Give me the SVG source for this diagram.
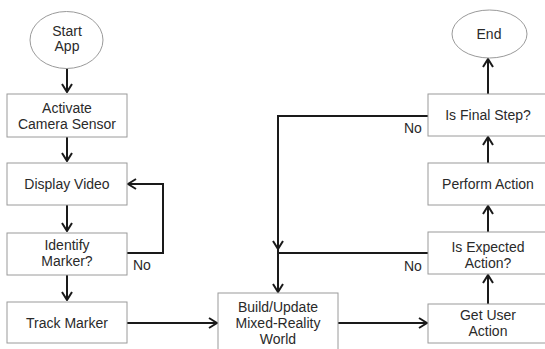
<svg xmlns="http://www.w3.org/2000/svg" width="545" height="349" viewBox="0 0 545 349">
<defs>
<marker id="ah" viewBox="0 0 10 12" refX="9" refY="6" markerWidth="10" markerHeight="12" markerUnits="userSpaceOnUse" orient="auto">
<path d="M1,1 L9,6 L1,11" fill="none" stroke="#1a1a1a" stroke-width="2"/>
</marker>
<style>
.box{fill:#fff;stroke:#9a9a9a;stroke-width:1}
.t{font-family:"Liberation Sans",Arial,sans-serif;font-size:14px;fill:#2a2a2a;text-anchor:middle}
.l{font-family:"Liberation Sans",Arial,sans-serif;font-size:14px;fill:#2a2a2a}
.c{fill:none;stroke:#1a1a1a;stroke-width:2;marker-end:url(#ah)}
.p{fill:none;stroke:#1a1a1a;stroke-width:2}
</style>
</defs>
<rect width="545" height="349" fill="#fff"/>
<g id="connectors">
<path class="c" d="M67,68 L67,92"/>
<path class="c" d="M67,137 L67,161"/>
<path class="c" d="M67,205 L67,231"/>
<path class="c" d="M67,275 L67,300"/>
<path class="c" d="M127,253 L163,253 L163,184 L128,184"/>
<path class="c" d="M127,323 L217,323"/>
<path class="c" d="M338,323 L427,323"/>
<path class="c" d="M488,304 L488,275"/>
<path class="c" d="M488,232 L488,206"/>
<path class="c" d="M488,163 L488,137"/>
<path class="c" d="M488,94 L488,59"/>
<path class="c" d="M428,116 L278,116 L278,249"/>
<path class="p" d="M428,253 L278,253"/>
<path class="c" d="M278,249 L278,292"/>
</g>
<g id="start"><ellipse class="box" cx="66.5" cy="40" rx="36.5" ry="28.5"/><text class="t" x="67" y="36">Start</text><text class="t" x="67" y="51">App</text></g>
<g id="activate"><rect class="box" x="7" y="94" width="120" height="43"/><text class="t" x="67" y="113">Activate</text><text class="t" x="67" y="129">Camera Sensor</text></g>
<g id="display"><rect class="box" x="7" y="163" width="120" height="42"/><text class="t" x="67" y="189">Display Video</text></g>
<g id="identify"><rect class="box" x="7" y="233" width="120" height="42"/><text class="t" x="67" y="250">Identify</text><text class="t" x="67" y="266">Marker?</text></g>
<g id="track"><rect class="box" x="7" y="302" width="120" height="41"/><text class="t" x="67" y="328">Track Marker</text></g>
<g id="build"><rect class="box" x="218" y="293" width="120" height="62"/><text class="t" x="278" y="312">Build/Update</text><text class="t" x="278" y="328">Mixed-Reality</text><text class="t" x="278" y="344">World</text></g>
<g id="getuser"><rect class="box" x="428" y="304" width="122" height="39"/><text class="t" x="488" y="320">Get User</text><text class="t" x="488" y="336">Action</text></g>
<g id="expected"><rect class="box" x="428" y="232" width="122" height="42"/><text class="t" x="488" y="252">Is Expected</text><text class="t" x="488" y="268">Action?</text></g>
<g id="perform"><rect class="box" x="428" y="163" width="122" height="42"/><text class="t" x="488" y="189">Perform Action</text></g>
<g id="final"><rect class="box" x="428" y="94" width="122" height="42"/><text class="t" x="488" y="120">Is Final Step?</text></g>
<g id="end"><ellipse class="box" cx="489.5" cy="34" rx="37.5" ry="24"/><text class="t" x="489" y="39">End</text></g>
<g id="labels">
<text class="l" x="133" y="270">No</text>
<text class="l" x="404" y="271">No</text>
<text class="l" x="404" y="133">No</text>
</g>
</svg>
